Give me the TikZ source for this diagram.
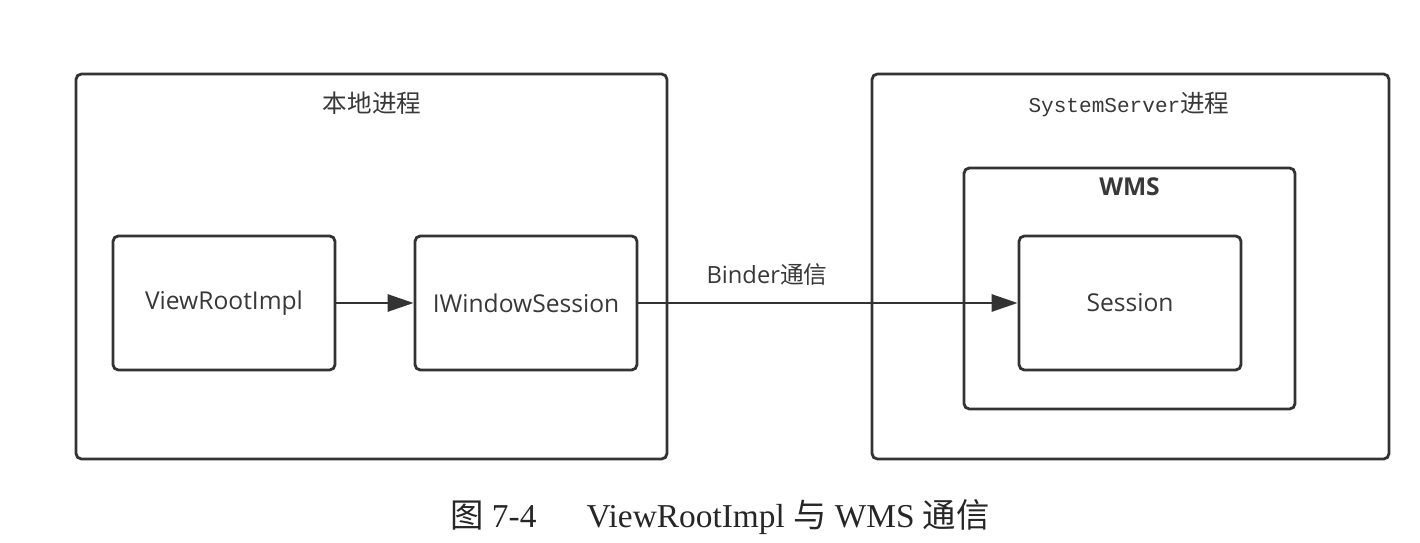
\documentclass[tikz,border=0pt]{standalone}
\usepackage{fontspec}
\setmainfont{Open Sans}
\newfontfamily\cjk{Noto Sans CJK SC}
\newfontfamily\monofont{Liberation Mono}
\newfontfamily\capfont{Liberation Serif}
\usetikzlibrary{arrows.meta}

\definecolor{linegray}{HTML}{333333}
\definecolor{textgray}{HTML}{383838}

\tikzset{
    box/.style={draw=linegray, line width=1.6pt, rounded corners=3pt, inner sep=0pt,
        text=textgray, font=\fontsize{14}{16}\selectfont},
    frame/.style={box, minimum width=#1},
    obj/.style={box, minimum width=4.44cm, minimum height=2.68cm},
    title/.style={text=textgray, font=\fontsize{14}{16}\selectfont, inner sep=0pt},
    link/.style={draw=linegray, line width=1.6pt, -{Triangle[length=0.52cm, width=0.34cm]}}
}

\begin{document}
\begin{tikzpicture}[x=0.02cm, y=-0.02cm]
        \useasboundingbox (0,0) rectangle (1420,543);
        % process frames
        \node[frame=11.82cm, minimum height=7.7cm] (local) at (371.5,266.5) {};
        \node[frame=10.34cm, minimum height=7.7cm] (server) at (1130.5,266.5) {};
        \node[frame=6.62cm, minimum height=4.82cm] (wms) at (1129.5,288.5) {};
        \node[title] (localtitle) at (372,103) {\cjk 本地进程};
        \node[title] (servertitle) at (1129,105) {{\monofont\fontsize{12}{14}\selectfont SystemServer}{\cjk 进程}};
        \node[title, font=\fontsize{14}{16}\selectfont\bfseries] (wmstitle) at (1129.5,187) {WMS};
        % objects
        \node[obj] (viewroot) at (224,303) {ViewRootImpl};
        \node[obj] (session) at (526,303) {IWindowSession};
        \node[obj] (wmssession) at (1130,303) {Session};
        \draw[link] (viewroot) -- (session);
        \draw[link] (session) -- (wmssession);
        \node[title, font=\fontsize{13.5}{16}\selectfont] (binder) at (767,275) {Binder{\cjk 通信}};
        % caption
        \node[inner sep=0pt, text=black!85, font=\fontsize{19}{22}\selectfont] (caption) at (720,517)
            {{\cjk 图}\capfont\ 7-4\hspace{1.5em}ViewRootImpl {\cjk 与} WMS {\cjk 通信}};
    \end{tikzpicture}
\end{document}
